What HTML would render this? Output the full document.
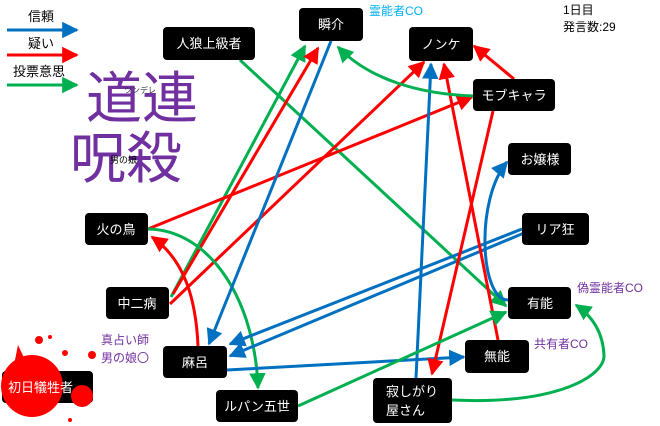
<!DOCTYPE html>
<html><head><meta charset="utf-8"><style>
body{margin:0;background:#fff;}
svg{display:block;font-family:"Liberation Sans","Noto Sans CJK JP",sans-serif;}
.n{fill:#000;}
.t{fill:#fff;font-size:13px;}
</style></head><body>
<svg width="660" height="426" viewBox="0 0 660 426" xmlns="http://www.w3.org/2000/svg">
<defs>
<marker id="b" viewBox="0 0 10 10" refX="9" refY="5" markerWidth="5.5" markerHeight="5.5" orient="auto" markerUnits="strokeWidth"><path d="M0,0L10,5L0,10z" fill="#0070c0"/></marker>
<marker id="r" viewBox="0 0 10 10" refX="9" refY="5" markerWidth="5.5" markerHeight="5.5" orient="auto" markerUnits="strokeWidth"><path d="M0,0L10,5L0,10z" fill="#ff0000"/></marker>
<marker id="g" viewBox="0 0 10 10" refX="9" refY="5" markerWidth="5.5" markerHeight="5.5" orient="auto" markerUnits="strokeWidth"><path d="M0,0L10,5L0,10z" fill="#00b050"/></marker>
</defs>
<g font-size="13" fill="#000">
<text x="28" y="21">信頼</text><text x="28" y="48">疑い</text><text x="13" y="76">投票意思</text>
</g>
<line x1="7" y1="30" x2="77" y2="30" stroke="#0070c0" stroke-width="3" marker-end="url(#b)"/>
<line x1="7" y1="55" x2="77" y2="55" stroke="#ff0000" stroke-width="3" marker-end="url(#r)"/>
<line x1="7" y1="85" x2="77" y2="85" stroke="#00b050" stroke-width="3" marker-end="url(#g)"/>
<text x="86" y="118" font-size="56" fill="#7030a0">道連</text>
<text x="70" y="178" font-size="56" fill="#7030a0">呪殺</text>
<text x="124" y="93" font-size="8" fill="#333">ツンデレ</text>
<text x="110" y="163" font-size="9" fill="#000">男の娘</text>
<g fill="none" stroke-width="3">
<line x1="240" y1="60" x2="506" y2="306" stroke="#00b050" marker-end="url(#g)"/>
<line x1="171" y1="297" x2="305" y2="46" stroke="#00b050" marker-end="url(#g)"/>
<line x1="173" y1="294" x2="318" y2="48" stroke="#ff0000" marker-end="url(#r)"/>
<line x1="170" y1="304" x2="424" y2="62" stroke="#ff0000" marker-end="url(#r)"/>
<line x1="148" y1="229" x2="472" y2="97" stroke="#ff0000" marker-end="url(#r)"/>
<path d="M198,346 C196,300 185,260 152,237" stroke="#ff0000" marker-end="url(#r)"/>
<path d="M148,229 C210,230 255,300 258,388" stroke="#00b050" marker-end="url(#g)"/>
<line x1="331" y1="41" x2="209" y2="344" stroke="#0070c0" marker-end="url(#b)"/>
<line x1="522" y1="229" x2="230" y2="344" stroke="#0070c0" marker-end="url(#b)"/>
<line x1="524" y1="233" x2="230" y2="356" stroke="#0070c0" marker-end="url(#b)"/>
<line x1="227" y1="370" x2="464" y2="357" stroke="#0070c0" marker-end="url(#b)"/>
<line x1="416" y1="378" x2="431" y2="64" stroke="#0070c0" marker-end="url(#b)"/>
<path d="M508,300 C480,300 475,200 507,162" stroke="#0070c0" marker-end="url(#b)"/>
<line x1="493" y1="111" x2="432" y2="374" stroke="#ff0000" marker-end="url(#r)"/>
<line x1="498" y1="340" x2="444" y2="64" stroke="#ff0000" marker-end="url(#r)"/>
<line x1="514" y1="79" x2="474" y2="46" stroke="#ff0000" marker-end="url(#r)"/>
<path d="M473,96 C420,94 370,80 338,47" stroke="#00b050" marker-end="url(#g)"/>
<line x1="298" y1="406" x2="506" y2="312" stroke="#00b050" marker-end="url(#g)"/>
<path d="M452,400 C560,405 605,375 604,355 C603,335 595,318 576,305" stroke="#00b050" marker-end="url(#g)"/>
</g>
<g>
<rect class="n" x="163" y="27" width="92" height="33" rx="4"/><text class="t" x="209" y="48" text-anchor="middle">人狼上級者</text>
<rect class="n" x="299" y="8" width="64" height="33" rx="4"/><text class="t" x="331" y="29" text-anchor="middle">瞬介</text>
<rect class="n" x="409" y="27" width="64" height="34" rx="4"/><text class="t" x="441" y="49" text-anchor="middle">ノンケ</text>
<rect class="n" x="473" y="79" width="82" height="32" rx="4"/><text class="t" x="514" y="100" text-anchor="middle">モブキャラ</text>
<rect class="n" x="508" y="143" width="63" height="32" rx="4"/><text class="t" x="540" y="164" text-anchor="middle">お嬢様</text>
<rect class="n" x="522" y="213" width="67" height="32" rx="4"/><text class="t" x="555" y="234" text-anchor="middle">リア狂</text>
<rect class="n" x="508" y="287" width="63" height="32" rx="4"/><text class="t" x="540" y="308" text-anchor="middle">有能</text>
<rect class="n" x="465" y="340" width="64" height="33" rx="4"/><text class="t" x="497" y="361" text-anchor="middle">無能</text>
<rect class="n" x="373" y="378" width="79" height="45" rx="4"/><text class="t" x="386" y="396">寂しがり</text><text class="t" x="386" y="415">屋さん</text>
<rect class="n" x="85" y="213" width="63" height="32" rx="4"/><text class="t" x="116" y="234" text-anchor="middle">火の鳥</text>
<rect class="n" x="106" y="287" width="63" height="32" rx="4"/><text class="t" x="137" y="308" text-anchor="middle">中二病</text>
<rect class="n" x="163" y="346" width="64" height="32" rx="4"/><text class="t" x="195" y="367" text-anchor="middle">麻呂</text>
<rect class="n" x="216" y="390" width="82" height="32" rx="4"/><text class="t" x="257" y="411" text-anchor="middle">ルパン五世</text>
<rect class="n" x="2" y="371" width="91" height="32" rx="4"/>
<g fill="#ff0000">
<circle cx="32" cy="386" r="31"/><circle cx="82" cy="396" r="11"/><circle cx="39" cy="340" r="4"/>
<circle cx="65" cy="353" r="3"/><circle cx="92" cy="355" r="4"/><circle cx="70" cy="420" r="2"/><circle cx="50" cy="337" r="2"/>
<path d="M14,365 L18,345 L26,362z"/>
</g>
<text class="t" x="8" y="392">初日犠牲者</text>
</g>
<text x="369" y="15" font-size="12" fill="#00b0f0">霊能者CO</text>
<text x="563" y="14" font-size="12" fill="#000">1日目</text>
<text x="563" y="31" font-size="12" fill="#000">発言数:29</text>
<text x="577" y="292" font-size="12" fill="#7030a0">偽霊能者CO</text>
<text x="534" y="348" font-size="12" fill="#7030a0">共有者CO</text>
<text x="101" y="344" font-size="12" fill="#7030a0">真占い師</text>
<text x="101" y="362" font-size="12" fill="#7030a0">男の娘〇</text>
</svg>
</body></html>
